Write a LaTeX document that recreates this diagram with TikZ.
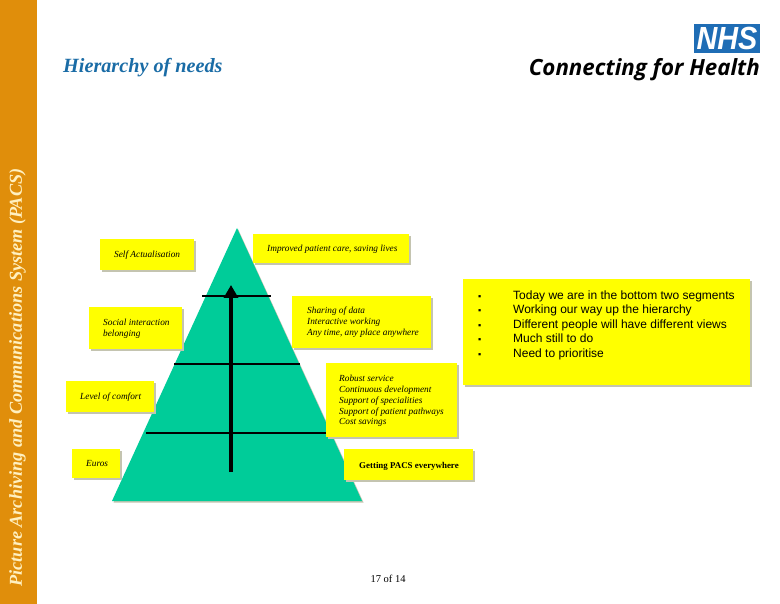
\documentclass[tikz,border=0pt]{standalone}
\usepackage{fontspec}
\usepackage{graphicx}
\setmainfont{Liberation Serif}
\newfontfamily\arialf{Liberation Sans}
\newfontfamily\logof{Open Sans}
\usetikzlibrary{arrows.meta}
\definecolor{sidebar}{HTML}{E08E0B}
\definecolor{sidetext}{HTML}{FFF0C0}
\definecolor{pyr}{HTML}{00CC99}
\definecolor{boxy}{HTML}{FFFF00}
\definecolor{shad}{HTML}{C4C4B0}
\definecolor{nhsblue}{HTML}{1F6DB5}
\definecolor{titleblue}{HTML}{1A6CA6}
\tikzset{
  x=1pt,y=-1pt,
  note/.style={font=\itshape\fontsize{9.3}{10.8}\selectfont,align=left,anchor=west,inner sep=0pt},
  band/.style={draw=black,line width=1.6pt},
}
\newcommand{\ybox}[4]{%
  \fill[shad] (#1+2,#2+2) rectangle (#3+2,#4+2);
  \fill[boxy] (#1,#2) rectangle (#3,#4);}
\newcommand{\bul}[1]{\makebox[36pt][l]{\kern1pt\fontsize{9}{9}\selectfont ▪}#1}
\begin{document}
\begin{tikzpicture}
\useasboundingbox (0,0) rectangle (780,604);
\fill[white] (0,0) rectangle (780,604);
\fill[sidebar] (0,0) rectangle (37,604);
\node[rotate=90,inner sep=0pt,text=sidetext,font=\bfseries\itshape\fontsize{18.2}{20}\selectfont] (side) at (17.5,377.5) {Picture Archiving and Communications System (PACS)};
\node[inner sep=0pt,anchor=west,text=titleblue,font=\bfseries\itshape\fontsize{20.2}{24}\selectfont] (title) at (63,68) {Hierarchy of needs};
% logo
\node[fill=nhsblue,minimum width=66pt,minimum height=29pt,inner sep=0pt,text=white,font=\arialf\bfseries\itshape\fontsize{32}{32}\selectfont] (nhs) at (727,38.5) {\scalebox{.9}[1]{NHS}};
\node[inner sep=0pt,anchor=base east,font=\logof\bfseries\itshape\fontsize{22.3}{26}\selectfont] (cfh) at (760,76) {Connecting for Health};
% pyramid
\fill[shad] (238,229)--(113.5,502.5)--(363.5,502.5)--cycle;
\fill[pyr] (237,228)--(112,501)--(362,501)--cycle;
\coordinate (l1a) at (202,296); \coordinate (l1b) at (271,296);
\coordinate (l2a) at (174,364); \coordinate (l2b) at (300,364);
\coordinate (l3a) at (146,433); \coordinate (l3b) at (326,433);
\coordinate (ab) at (231,472); \coordinate (at) at (231,285);
\draw[band] (l1a)--(l1b);
\draw[band] (l2a)--(l2b);
\draw[band] (l3a)--(l3b);
\draw[line width=4.4pt,-{Triangle[length=13pt,width=14pt]}] (ab)--(at);
% boxes
\ybox{100}{239}{194}{270}
\ybox{253}{234}{409}{263}
\ybox{89}{307}{182}{349}
\ybox{292}{296}{431}{348}
\ybox{66}{381}{154}{412}
\ybox{326}{363}{457}{437}
\ybox{72}{449}{120}{478}
\ybox{344}{449}{473}{480}
\ybox{463}{279}{750}{385}
\node[note] (t1) at (114,255) {Self Actualisation};
\node[note] (t2) at (267,249) {Improved patient care, saving lives};
\node[note] (t3) at (103,329) {Social interaction\\belonging};
\node[note] (t4) at (307,322.5) {Sharing of data\\Interactive working\\Any time, any place anywhere};
\node[note] (t5) at (80,397) {Level of comfort};
\node[note] (t6) at (339,401) {Robust service\\Continuous development\\Support of specialities\\Support of patient pathways\\Cost savings};
\node[note] (t7) at (86,463.5) {Euros};
\node[note,font=\bfseries\fontsize{8.9}{10}\selectfont] (t8) at (359,466) {Getting PACS everywhere};
\node[inner sep=0pt,anchor=north west,align=left,font=\arialf\fontsize{12}{14.5}\selectfont] (txt) at (477,290.5) {\bul{Today we are in the bottom two segments}\\\bul{Working our way up the hierarchy}\\\bul{Different people will have different views}\\\bul{Much still to do}\\\bul{Need to prioritise}};
\node[inner sep=0pt,font=\fontsize{10.5}{12}\selectfont] (pg) at (388,579) {17 of 14};
\end{tikzpicture}
\end{document}
